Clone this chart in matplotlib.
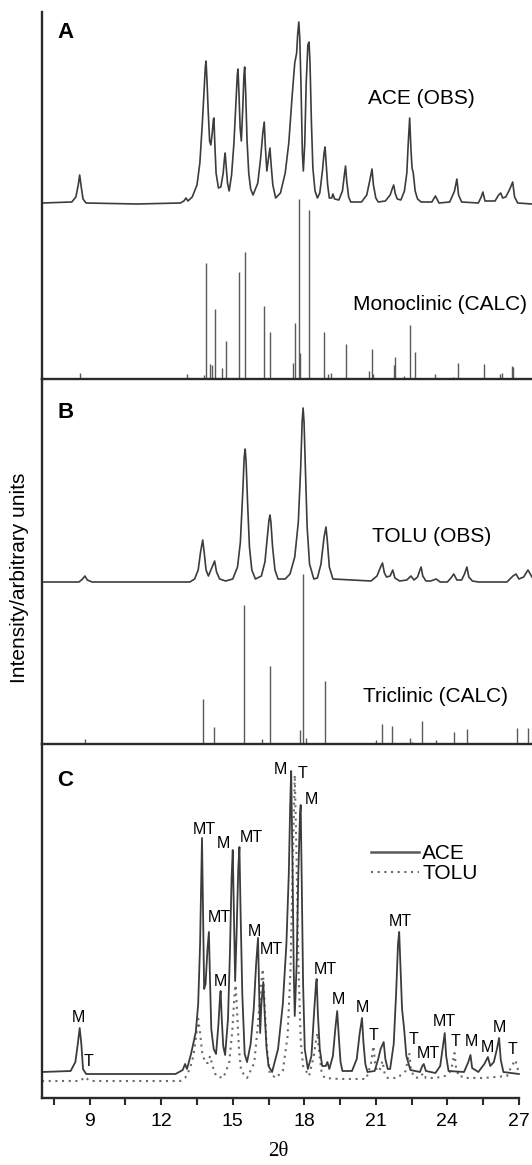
import numpy as np
import matplotlib
matplotlib.use('Agg')
import matplotlib.pyplot as plt
from matplotlib.lines import Line2D

plt.rcParams['font.family'] = ['Liberation Sans', 'DejaVu Sans']

# ---- dados (2theta, intensidade relativa) ----
# painel A: ACE observado (altura acima da linha de base)
ace_obs = [(7.0, 0), (8.25, 1), (8.42, 6), (8.52, 18), (8.58, 28), (8.64, 17), (8.72, 4), (8.85, 0),
           (11.0, -1), (12.8, 0), (12.95, 2), (13.04, 5), (13.12, 2), (13.3, 6), (13.5, 18), (13.62, 40),
           (13.72, 78), (13.8, 115), (13.85, 136), (13.88, 142), (13.92, 122), (13.97, 92), (14.03, 62),
           (14.08, 58), (14.14, 70), (14.19, 84), (14.21, 85), (14.25, 58), (14.3, 30),
           (14.4, 15), (14.5, 16), (14.6, 30), (14.65, 44), (14.68, 50), (14.72, 38), (14.78, 20),
           (14.85, 12), (14.95, 28), (15.05, 60), (15.14, 105), (15.19, 128), (15.22, 134), (15.26, 110),
           (15.31, 75), (15.36, 62), (15.42, 95), (15.47, 128), (15.5, 136), (15.54, 112), (15.6, 62),
           (15.67, 30), (15.75, 14), (15.85, 8), (16.05, 20), (16.17, 45), (16.26, 70), (16.32, 81),
           (16.37, 55), (16.43, 32), (16.5, 45), (16.56, 55), (16.61, 38), (16.68, 18), (16.8, 5),
           (17.0, 10), (17.2, 30), (17.35, 60), (17.5, 110), (17.6, 140), (17.68, 150), (17.72, 168),
           (17.77, 181), (17.81, 165), (17.86, 120), (17.92, 50), (17.96, 32), (18.02, 60), (18.08, 120),
           (18.15, 158), (18.2, 161), (18.24, 140), (18.3, 80), (18.36, 35), (18.45, 12), (18.55, 5),
           (18.65, 10), (18.76, 32), (18.83, 50), (18.87, 56), (18.92, 38), (18.98, 18), (19.05, 5),
           (19.15, 5), (19.2, 9), (19.27, 4), (19.45, 3), (19.6, 12), (19.68, 28), (19.73, 37),
           (19.78, 22), (19.86, 6), (19.95, 1), (20.4, 1), (20.62, 8), (20.76, 24), (20.84, 34),
           (20.9, 18), (21.0, 5), (21.1, 1), (21.4, 2), (21.6, 8), (21.7, 15), (21.75, 18), (21.82, 9),
           (21.9, 4), (22.05, 3), (22.2, 12), (22.3, 30), (22.36, 60), (22.42, 85), (22.47, 55),
           (22.52, 35), (22.57, 30), (22.65, 12), (22.75, 4), (22.9, 1), (23.35, 1), (23.5, 7),
           (23.65, 0), (24.1, 1), (24.3, 12), (24.4, 24), (24.47, 8), (24.6, 1), (25.3, 0), (25.42, 6),
           (25.49, 11), (25.58, 2), (26.0, 2), (26.15, 8), (26.24, 10), (26.32, 5), (26.45, 6),
           (26.62, 14), (26.74, 21), (26.82, 6), (26.95, 0), (27.55, -1)]
ace_obs_base = 176

# painel A: monoclinico calculado (posicao, altura)
mono_pos = [8.61, 13.07, 13.81, 13.88, 14.06, 14.14, 14.24, 14.55, 14.71, 15.26, 15.52, 16.33, 16.56,
            17.52, 17.63, 17.78, 17.84, 18.2, 18.84, 18.98, 19.1, 19.77, 20.72, 20.85, 20.9, 21.75,
            21.8, 22.2, 22.44, 22.64, 23.5, 24.25, 24.46, 25.53, 26.2, 26.3, 26.71, 26.76]
mono_int = [6, 5, 4, 116, 15, 14, 70, 11, 38, 107, 127, 73, 47,
            16, 56, 180, 26, 169, 47, 5, 6, 35, 8, 30, 5, 14,
            22, 3, 54, 27, 5, 2, 16, 15, 5, 6, 13, 12]

# painel B: TOLU observado
tolu_obs = [(7.0, 0), (8.55, 0), (8.7, 3), (8.8, 6), (8.9, 2), (9.1, 0), (13.2, 0), (13.4, 3),
            (13.55, 12), (13.65, 30), (13.74, 42), (13.8, 30), (13.88, 12), (13.98, 6), (14.1, 13),
            (14.24, 21), (14.32, 10), (14.45, 3), (14.7, 1), (15.0, 3), (15.2, 15), (15.32, 40),
            (15.42, 90), (15.48, 125), (15.52, 133), (15.56, 120), (15.62, 80), (15.7, 35), (15.8, 12),
            (15.95, 3), (16.2, 6), (16.35, 20), (16.45, 45), (16.52, 62), (16.56, 67), (16.6, 60),
            (16.67, 35), (16.77, 12), (16.9, 3), (17.2, 3), (17.4, 8), (17.6, 25), (17.75, 60),
            (17.85, 115), (17.91, 160), (17.95, 174), (17.99, 160), (18.05, 110), (18.12, 55),
            (18.22, 18), (18.4, 3), (18.55, 4), (18.7, 18), (18.83, 45), (18.91, 55), (18.97, 40),
            (19.05, 15), (19.2, 3), (20.8, 1), (21.05, 6), (21.2, 15), (21.28, 19), (21.36, 9),
            (21.45, 5), (21.6, 6), (21.71, 12), (21.8, 4), (22.0, 1), (22.3, 2), (22.47, 6), (22.6, 2),
            (22.75, 5), (22.85, 12), (22.9, 15), (22.97, 6), (23.1, 1), (23.3, 1), (23.53, 3), (23.7, 0),
            (24.0, 0), (24.15, 4), (24.27, 8), (24.4, 2), (24.6, 2), (24.72, 8), (24.82, 15), (24.9, 5),
            (25.05, 1), (25.3, 0), (26.5, 0), (26.75, 6), (26.88, 8), (27.0, 3), (27.2, 5), (27.38, 12),
            (27.55, 5)]
tolu_obs_base = 162

# painel B: triclinico calculado
tric_pos = [8.8, 13.74, 14.23, 15.46, 16.24, 16.56, 17.84, 17.95, 18.06, 18.87, 21.0, 21.28, 21.66,
            22.44, 22.52, 22.92, 23.53, 24.28, 24.82, 26.9, 27.38]
tric_int = [5, 45, 17, 139, 5, 78, 14, 170, 6, 63, 4, 20, 18,
            6, 2, 23, 4, 12, 15, 16, 16]

# painel C: ACE e TOLU sobrepostos
ace_c = [(7.0, 2), (8.2, 3), (8.4, 12), (8.5, 30), (8.58, 46), (8.65, 30), (8.72, 5), (8.85, 0),
         (12.6, 0), (12.9, 4), (13.0, 10), (13.08, 5), (13.25, 20), (13.45, 42), (13.55, 70),
         (13.63, 130), (13.68, 200), (13.71, 236), (13.75, 170), (13.8, 85), (13.86, 90), (13.94, 125),
         (14.0, 142), (14.05, 90), (14.1, 45), (14.2, 25), (14.3, 20), (14.4, 50), (14.46, 75),
         (14.49, 83), (14.54, 55), (14.6, 28), (14.68, 19), (14.8, 55), (14.88, 120), (14.95, 195),
         (15.0, 224), (15.05, 160), (15.1, 93), (15.16, 140), (15.23, 205), (15.28, 227), (15.33, 160),
         (15.4, 80), (15.5, 20), (15.6, 12), (15.75, 30), (15.88, 65), (15.98, 110), (16.06, 136),
         (16.11, 80), (16.15, 41), (16.2, 70), (16.28, 92), (16.34, 60), (16.42, 25), (16.5, 8),
         (16.65, 2), (16.9, 25), (17.1, 70), (17.25, 130), (17.35, 200), (17.41, 270), (17.45, 303),
         (17.5, 220), (17.56, 100), (17.6, 58), (17.68, 110), (17.75, 200), (17.82, 260), (17.85, 269),
         (17.89, 200), (17.95, 90), (18.02, 25), (18.15, 5), (18.3, 18), (18.42, 65), (18.49, 90),
         (18.52, 95), (18.57, 60), (18.65, 25), (18.75, 8), (18.9, 8), (18.97, 12), (19.05, 5),
         (19.2, 18), (19.3, 45), (19.38, 63), (19.44, 40), (19.52, 12), (19.6, 3), (20.0, 3),
         (20.2, 15), (20.32, 40), (20.42, 56), (20.48, 32), (20.56, 10), (20.65, 2), (20.95, 3),
         (21.1, 15), (21.2, 25), (21.33, 32), (21.4, 15), (21.5, 5), (21.6, 5), (21.75, 30),
         (21.85, 80), (21.93, 130), (21.98, 142), (22.03, 110), (22.1, 65), (22.18, 47), (22.28, 18),
         (22.45, 4), (22.85, 2), (22.95, 8), (23.01, 10), (23.1, 3), (23.5, 1), (23.7, 8), (23.8, 25),
         (23.89, 41), (23.95, 18), (24.05, 3), (24.7, 2), (24.88, 12), (24.97, 19), (25.04, 6),
         (25.3, 2), (25.55, 10), (25.7, 17), (25.8, 8), (25.95, 12), (26.08, 25), (26.17, 36),
         (26.24, 14), (26.35, 2), (27.0, 0)]
ace_c_base = 24

tolu_c = [(7.0, 0), (8.6, 0), (8.75, 3), (8.82, 4), (8.9, 2), (9.05, 0), (12.8, 0), (13.0, 3),
          (13.2, 12), (13.35, 25), (13.48, 48), (13.55, 62), (13.62, 50), (13.72, 28), (13.85, 18),
          (13.95, 18), (14.05, 25), (14.15, 15), (14.3, 5), (14.6, 3), (14.85, 18), (14.98, 50),
          (15.07, 85), (15.12, 96), (15.18, 70), (15.26, 32), (15.35, 10), (15.6, 3), (15.9, 18),
          (16.05, 55), (16.18, 95), (16.26, 112), (16.33, 80), (16.42, 35), (16.55, 8), (16.8, 3),
          (17.1, 10), (17.3, 45), (17.42, 110), (17.52, 220), (17.6, 306), (17.67, 230), (17.75, 120),
          (17.85, 40), (17.95, 15), (18.2, 5), (18.4, 25), (18.5, 42), (18.55, 48), (18.62, 30),
          (18.72, 10), (18.85, 3), (19.5, 2), (20.6, 2), (20.8, 18), (20.9, 35), (20.97, 18),
          (21.05, 10), (21.15, 10), (21.28, 20), (21.38, 6), (21.5, 3), (21.9, 3), (22.25, 10),
          (22.35, 22), (22.4, 28), (22.47, 12), (22.6, 4), (22.8, 3), (23.0, 8), (23.1, 3), (23.5, 3),
          (23.9, 5), (24.15, 10), (24.25, 22), (24.3, 28), (24.37, 12), (24.5, 4), (24.7, 5),
          (24.85, 3), (25.5, 3), (26.5, 5), (26.7, 15), (26.85, 21), (27.0, 8)]
tolu_c_base = 17

# rotulos dos picos no painel C (texto, 2theta, altura)
rotulos_txt = ['M', 'T', 'MT', 'M', 'MT', 'MT', 'M', 'M', 'MT', 'M', 'T', 'M', 'MT', 'M', 'M', 'T',
               'MT', 'T', 'MT', 'MT', 'T', 'M', 'M', 'M', 'T']
rotulos_x = [8.54, 8.97, 13.82, 14.6, 15.78, 14.43, 14.5, 15.93, 16.6, 17.0, 17.92, 18.29, 18.89,
             19.42, 20.44, 20.9, 22.04, 22.6, 23.22, 23.89, 24.36, 25.0, 25.7, 26.2, 26.74]
rotulos_y = [80, 37, 269, 254, 260, 180, 116, 166, 149, 329, 325, 298, 129, 98, 90, 63, 176, 58, 44,
             77, 56, 56, 51, 71, 49]

ticks_maiores = [9, 12, 15, 18, 21, 24, 27]
ticks_menores = [7.5, 10.5, 13.5, 16.5, 19.5, 22.5, 25.5]

cor_linha = '#3c3c3c'
cor_barra = '#5a5a5a'
cor_eixo = '#2a2a2a'
X_MIN, X_MAX = 7.0, 27.55


def preparar_eixo(ax, topo):
    ax.set_xlim(X_MIN, X_MAX)
    ax.set_ylim(0, topo)
    for lado in ['top', 'right']:
        ax.spines[lado].set_visible(False)
    for lado in ['left', 'bottom']:
        ax.spines[lado].set_linewidth(1.7)
        ax.spines[lado].set_color(cor_eixo)
    ax.set_yticks([])
    ax.set_facecolor('none')


fig = plt.figure(figsize=(5.32, 11.65), dpi=100)
esq, larg = 42 / 532, 490 / 532
axA = fig.add_axes([esq, 786 / 1165, larg, 367 / 1165])
axB = fig.add_axes([esq, 421 / 1165, larg, 365 / 1165])
axC = fig.add_axes([esq, 67 / 1165, larg, 354 / 1165])

# Painel A
preparar_eixo(axA, 367)
axA.set_xticks([])
xa, ya = np.array(ace_obs).T
axA.plot(xa, ya + ace_obs_base, color=cor_linha, lw=1.2)
axA.vlines(mono_pos, 0, mono_int, color=cor_barra, lw=1.0)
axA.text(7.97, 347, 'A', fontsize=16, fontweight='bold', ha='center', va='center')
axA.text(22.93, 281, 'ACE (OBS)', fontsize=15, ha='center', va='center')
axA.text(23.7, 74, 'Monoclinic (CALC)', fontsize=15, ha='center', va='center')

# Painel B
preparar_eixo(axB, 365)
axB.set_xticks([])
xb, yb = np.array(tolu_obs).T
axB.plot(xb, yb + tolu_obs_base, color=cor_linha, lw=1.2)
axB.vlines(tric_pos, 0, tric_int, color=cor_barra, lw=1.0)
axB.text(7.97, 331, 'B', fontsize=16, fontweight='bold', ha='center', va='center')
axB.text(23.32, 207, 'TOLU (OBS)', fontsize=15, ha='center', va='center')
axB.text(23.49, 47, 'Triclinic (CALC)', fontsize=15, ha='center', va='center')

# Painel C
preparar_eixo(axC, 354)
axC.spines['bottom'].set_bounds(X_MIN, 27)
xc, yc = np.array(ace_c).T
xt, yt = np.array(tolu_c).T
axC.plot(xt, yt + tolu_c_base, color='#6a6a6a', lw=1.5, ls=(0, (1, 2.2)))
axC.plot(xc, yc + ace_c_base, color=cor_linha, lw=1.3)
for t, x, y in zip(rotulos_txt, rotulos_x, rotulos_y):
    axC.text(x, y, t, fontsize=11.5, ha='center', va='center')
axC.text(7.97, 318, 'C', fontsize=16, fontweight='bold', ha='center', va='center')

axC.set_xticks(ticks_maiores)
axC.set_xticks(ticks_menores, minor=True)
axC.tick_params(axis='x', which='both', direction='out', length=5, width=1.5, color=cor_eixo,
                labelsize=14, pad=6)

legenda = [Line2D([0], [0], color='#5a5a5a', lw=1.8),
           Line2D([0], [0], color='#6a6a6a', lw=1.5, ls=(0, (1, 2.2)))]
axC.legend(legenda, ['ACE', 'TOLU'], loc='upper left', bbox_to_anchor=(0.655, 0.74),
           frameon=False, fontsize=15, handlelength=2.3, handletextpad=0.15, labelspacing=0.05,
           borderaxespad=0)

fig.text(20 / 532, 1 - 578 / 1165, 'Intensity/arbitrary units', rotation=90, fontsize=15,
         ha='center', va='center')
fig.text(278 / 532, 1 - 1152 / 1165, '2θ', fontsize=15, ha='center', va='center',
         family=['Liberation Serif', 'DejaVu Serif'])

fig.savefig('out.png', dpi=100)
